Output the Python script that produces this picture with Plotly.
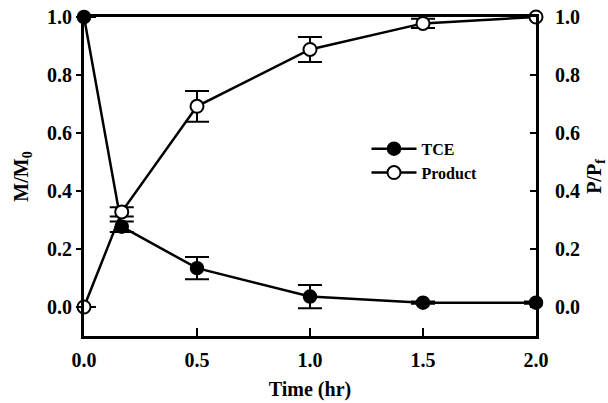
import plotly.graph_objects as go

time_hr = [0.0, 0.167, 0.5, 1.0, 1.5, 2.0]
tce = [1.0, 0.277, 0.134, 0.036, 0.015, 0.015]
tce_err = [0.0, 0.018, 0.038, 0.040, 0.004, 0.004]
product = [0.0, 0.328, 0.692, 0.888, 0.978, 1.0]
product_err = [0.0, 0.016, 0.053, 0.043, 0.016, 0.0]
ticks_y = [0.0, 0.2, 0.4, 0.6, 0.8, 1.0]
ticks_x = [0.0, 0.5, 1.0, 1.5, 2.0]
series_names = ["TCE", "Product"]

FONT = "Liberation Serif"
tickfont = dict(family=FONT, size=20, color="black")
titlefont = dict(family=FONT, size=20, color="black")

def bold(s):
    return f"<b>{s}</b>"

fig = go.Figure()
fig.add_trace(go.Scatter(
    x=time_hr, y=tce, name=bold(series_names[0]), mode="lines+markers",
    line=dict(color="black", width=2.5),
    marker=dict(symbol="circle", size=13, color="black", line=dict(color="black", width=1.5)),
    error_y=dict(type="data", array=tce_err, visible=True, color="black", thickness=2, width=12),
    cliponaxis=False, yaxis="y",
))
fig.add_trace(go.Scatter(
    x=time_hr, y=product, name=bold(series_names[1]), mode="lines+markers",
    line=dict(color="black", width=2.5),
    marker=dict(symbol="circle", size=13, color="white", line=dict(color="black", width=2)),
    error_y=dict(type="data", array=product_err, visible=True, color="black", thickness=2, width=12),
    cliponaxis=False, yaxis="y2",
))

fig.update_layout(
    width=608, height=403,
    margin=dict(l=84, r=72, t=17, b=67, autoexpand=False),
    paper_bgcolor="white", plot_bgcolor="white",
    font=dict(family=FONT, color="black", size=16),
    showlegend=True,
    legend=dict(x=0.625, y=0.64, xanchor="left", yanchor="top",
                bgcolor="rgba(0,0,0,0)", font=dict(family=FONT, size=16, color="black"),
                tracegroupgap=0, itemwidth=45),
    xaxis=dict(range=[0, 2.0], tickvals=ticks_x, ticktext=[bold(f"{v:.1f}") for v in ticks_x],
               ticks="inside", ticklen=8, tickwidth=2, tickcolor="black", automargin=False,
               showline=True, linewidth=3, linecolor="black", mirror=True,
               showgrid=False, zeroline=False, tickfont=tickfont, ticklabelstandoff=4,
               title=dict(text=bold("Time (hr)"), font=titlefont, standoff=12)),
    yaxis=dict(range=[-0.1, 1.0], tickvals=ticks_y, ticktext=[bold(f"{v:.1f}") for v in ticks_y],
               ticks="outside", ticklen=5, tickwidth=2, tickcolor="black", automargin=False,
               showline=True, linewidth=3, linecolor="black",
               showgrid=False, zeroline=False, tickfont=tickfont,
               title=dict(text=bold("M/M<sub>0</sub>"), font=titlefont, standoff=14)),
    yaxis2=dict(range=[-0.1, 1.0], tickvals=ticks_y, ticktext=[bold(f"{v:.1f}") for v in ticks_y],
                overlaying="y", side="right", automargin=False,
                ticks="inside", ticklen=6, tickwidth=2, tickcolor="black",
                showline=True, linewidth=3, linecolor="black",
                showgrid=False, zeroline=False, tickfont=tickfont, ticklabelstandoff=12,
                title=dict(text=bold("P/P<sub>f</sub>"), font=titlefont, standoff=8)),
)

fig.write_html("out.html")
